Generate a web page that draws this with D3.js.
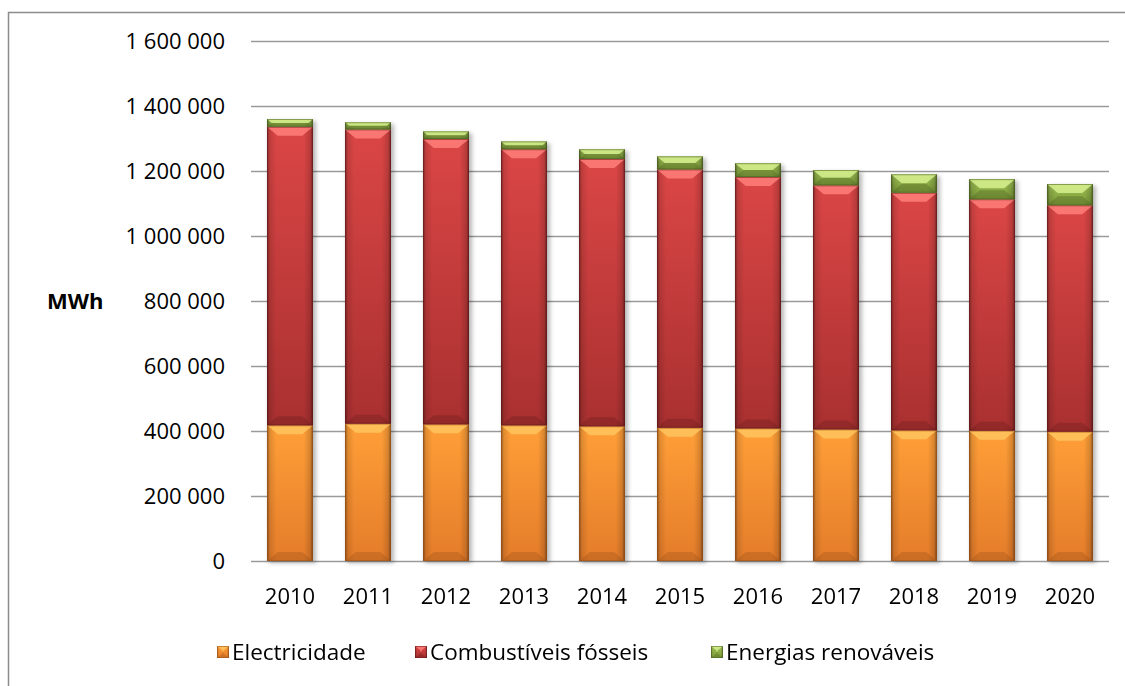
<!DOCTYPE html>
<html>
<head>
<meta charset="utf-8">
<script src="https://cdn.jsdelivr.net/npm/d3@7/dist/d3.min.js"></script>
<style>
  html, body { margin: 0; padding: 0; background: #fff; }
  svg { display: block; font-family: "Open Sans", "Noto Sans", sans-serif; }
</style>
</head>
<body>
<svg id="chart" width="1125" height="686"></svg>
<script>
// Energy consumption by source, MWh
const years = ["2010","2011","2012","2013","2014","2015","2016","2017","2018","2019","2020"];
const electricidade = [417500, 422500, 420500, 417500, 414500, 410000, 408000, 405000, 402000, 401000, 398000];
const combustiveis  = [918500, 905500, 878000, 849500, 822500, 795000, 773500, 751000, 731000, 712000, 696500];
const renovaveis    = [24000, 22000, 23500, 24000, 30000, 40000, 42500, 47000, 57000, 62000, 65500];
const seriesNames = ["Electricidade", "Combustíveis fósseis", "Energias renováveis"];
const yTicks = [0, 200000, 400000, 600000, 800000, 1000000, 1200000, 1400000, 1600000];
const yLabel = "MWh";

const palette = [
  { light: "#FFC45E", top: "#FF9F38", bottom: "#E47C2A", dark: "#9E5418" },
  { light: "#FF7F7A", top: "#DB4646", bottom: "#A93030", dark: "#6A1C1C" },
  { light: "#D6F08E", top: "#9DBF54", bottom: "#7C9A38", dark: "#4C6222" }
];

const svg = d3.select("#chart");
const W = 1125, H = 686;
const plot = { left: 251, right: 1109, top: 41, bottom: 561 };

// outer chart frame
svg.append("rect")
  .attr("x", 8.5).attr("y", 12.5)
  .attr("width", W + 20).attr("height", H + 20)
  .attr("fill", "none").attr("stroke", "#8c8c8c").attr("stroke-width", 1.5);

const x = d3.scaleBand().domain(years)
  .range([plot.left, plot.right])
  .paddingInner(0.41).paddingOuter(0.205);
const y = d3.scaleLinear().domain([0, 1600000]).range([plot.bottom, plot.top]);

const fmt = v => d3.format(",")(v).replace(/,/g, "\u00a0");

// gradients
const defs = svg.append("defs");
palette.forEach((c, i) => {
  const g = defs.append("linearGradient").attr("id", "body" + i)
    .attr("x1", 0).attr("y1", 0).attr("x2", 0).attr("y2", 1);
  g.append("stop").attr("offset", "0%").attr("stop-color", c.top);
  g.append("stop").attr("offset", "100%").attr("stop-color", c.bottom);
});
const edge = defs.append("linearGradient").attr("id", "edge")
  .attr("x1", 0).attr("y1", 0).attr("x2", 1).attr("y2", 0);
[[0, 0.45], [0.06, 0.12], [0.2, 0], [0.8, 0], [0.94, 0.15], [1, 0.5]].forEach(([o, a]) =>
  edge.append("stop").attr("offset", o).attr("stop-color", "#000").attr("stop-opacity", a));
const blur = defs.append("filter").attr("id", "shadow")
  .attr("x", "-20%").attr("y", "-20%").attr("width", "140%").attr("height", "140%");
blur.append("feGaussianBlur").attr("stdDeviation", 2.2);

// gridlines
svg.append("g").selectAll("line").data(yTicks).join("line")
  .attr("x1", plot.left).attr("x2", plot.right)
  .attr("y1", d => Math.round(y(d)) + 0.5).attr("y2", d => Math.round(y(d)) + 0.5)
  .attr("stroke", "#9a9a9a").attr("stroke-width", 1.6);

// y tick labels
svg.append("g").selectAll("text").data(yTicks).join("text")
  .attr("x", 225).attr("y", d => y(d))
  .attr("dy", "0.35em").attr("text-anchor", "end")
  .attr("font-size", 22).attr("fill", "#000")
  .text(d => fmt(d));

svg.append("text")
  .attr("x", 47).attr("y", y(800000)).attr("dy", "0.35em")
  .attr("font-size", 22).attr("font-weight", "bold").attr("fill", "#000")
  .text(yLabel);

// stacked data
const rows = years.map((yr, i) => ({ year: yr, e: electricidade[i], c: combustiveis[i], r: renovaveis[i] }));
const stack = d3.stack().keys(["e", "c", "r"])(rows);

function bevelSegment(g, x0, y0, w, h, ci) {
  const c = palette[ci];
  const b = Math.min(9, h / 2);
  const inset = Math.min(11, b * 1.2);
  g.append("rect").attr("x", x0).attr("y", y0).attr("width", w).attr("height", h)
    .attr("fill", `url(#body${ci})`);
  g.append("rect").attr("x", x0).attr("y", y0).attr("width", w).attr("height", h)
    .attr("fill", "url(#edge)");
  // top bevel
  g.append("polygon")
    .attr("points", [[x0, y0], [x0 + w, y0], [x0 + w - inset, y0 + b], [x0 + inset, y0 + b]].join(" "))
    .attr("fill", c.light).attr("opacity", 0.85);
  // bottom bevel
  g.append("polygon")
    .attr("points", [[x0, y0 + h], [x0 + w, y0 + h], [x0 + w - inset, y0 + h - b], [x0 + inset, y0 + h - b]].join(" "))
    .attr("fill", c.dark).attr("opacity", 0.35);
  g.append("rect").attr("x", x0 + 0.5).attr("y", y0 + 0.5).attr("width", w - 1).attr("height", h - 1)
    .attr("fill", "none").attr("stroke", c.dark).attr("stroke-opacity", 0.55).attr("stroke-width", 1);
}

// bar shadows
const shadows = svg.append("g").attr("filter", "url(#shadow)");
rows.forEach((d, i) => {
  const top = y(d.e + d.c + d.r);
  shadows.append("rect")
    .attr("x", x(d.year) + 2).attr("y", top + 2)
    .attr("width", x.bandwidth() + 1).attr("height", y(0) - top)
    .attr("fill", "#000").attr("opacity", 0.28);
});

const bars = svg.append("g");
stack.forEach((layer, ci) => {
  layer.forEach(seg => {
    const yr = seg.data.year;
    const y0 = y(seg[1]), y1 = y(seg[0]);
    bevelSegment(bars, x(yr), y0, x.bandwidth(), y1 - y0, ci);
  });
});

// x labels
svg.append("g").selectAll("text").data(years).join("text")
  .attr("x", d => x(d) + x.bandwidth() / 2).attr("y", 596)
  .attr("dy", "0.35em").attr("text-anchor", "middle")
  .attr("font-size", 22).attr("fill", "#000")
  .text(d => d);

// legend
const legendX = [217, 415, 711];
const legend = svg.append("g");
seriesNames.forEach((name, i) => {
  const lx = legendX[i], ly = 652;
  bevelSegment(legend, lx, ly - 6, 12, 12, i);
  legend.append("text")
    .attr("x", lx + 15).attr("y", ly).attr("dy", "0.35em")
    .attr("font-size", 22.5).attr("fill", "#000")
    .text(name);
});
</script>
</body>
</html>
